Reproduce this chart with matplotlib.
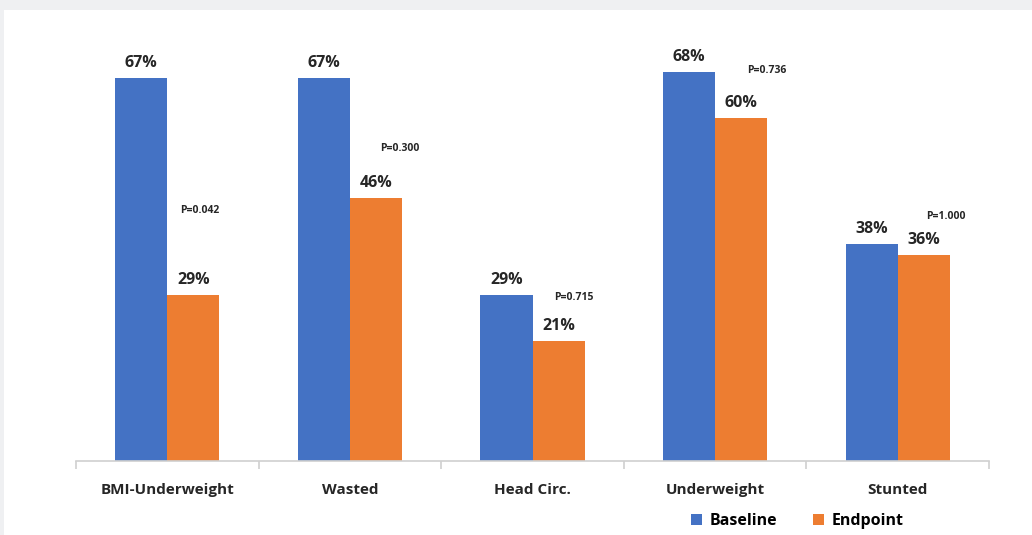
import matplotlib.pyplot as plt
import numpy as np
from matplotlib.patches import Rectangle

categories = ['BMI-Underweight', 'Wasted', 'Head Circ.', 'Underweight', 'Stunted']
baseline = [67, 67, 29, 68, 38]
endpoint = [29, 46, 21, 60, 36]
p_values = ['P=0.042', 'P=0.300', 'P=0.715', 'P=0.736', 'P=1.000']

# where each p-value sits: x shift from category centre (bar widths), height in %
p_dx = [0.62, 0.95, 0.8, 1.0, 0.92]
p_y = [43.7, 54.7, 28.5, 68.2, 42.7]

blue = '#4472C4'
orange = '#ED7D31'
plt.rcParams['font.family'] = ['Open Sans', 'DejaVu Sans']

fig = plt.figure(figsize=(10.32, 5.35), dpi=100)
fig.patch.set_facecolor('#eff0f2')
fig.patches.append(Rectangle((4 / 1032, 0), 1, 1 - 10 / 535, transform=fig.transFigure,
                             facecolor='white', edgecolor='none', zorder=-10))

ax = fig.add_axes([76 / 1032, 74 / 535, 913 / 1032, 0.802])
ax.set_facecolor('none')

x = np.arange(len(categories))
w = 0.285
b1 = ax.bar(x - w / 2, baseline, w, color=blue, label='Baseline')
b2 = ax.bar(x + w / 2, endpoint, w, color=orange, label='Endpoint')

for rect, v in zip(list(b1) + list(b2), baseline + endpoint):
    ax.annotate(f'{v}%', (rect.get_x() + rect.get_width() / 2, v),
                xytext=(0, 5), textcoords='offset points', ha='center', va='bottom',
                fontsize=11.5, fontweight='bold', color='#262626')

for i, p in enumerate(p_values):
    ax.text(x[i] + p_dx[i] * w, p_y[i], p, ha='center', va='center',
            fontsize=7.5, fontweight='bold', color='#262626')

ax.set_xlim(-0.5, len(categories) - 0.5)
ax.set_ylim(0, 75)
ax.set_yticks([])
for s in ['top', 'right', 'left']:
    ax.spines[s].set_visible(False)
ax.spines['bottom'].set_color('#d0d0d0')
ax.spines['bottom'].set_linewidth(1.2)

ax.set_xticks(x)
ax.set_xticklabels(categories, fontsize=11, fontweight='bold', color='#262626')
ax.tick_params(axis='x', length=0, pad=16)
ax.set_xticks(np.arange(len(categories) + 1) - 0.5, minor=True)
ax.tick_params(axis='x', which='minor', length=6, color='#d0d0d0', width=1.2)

ax.legend(loc='center', bbox_to_anchor=(0.79, -0.14), ncol=2, frameon=False,
          prop={'weight': 'bold', 'size': 11.5}, handlelength=0.7,
          handleheight=0.7, columnspacing=2.2, handletextpad=0.5)

fig.savefig('out.png', dpi=100, facecolor=fig.get_facecolor())
